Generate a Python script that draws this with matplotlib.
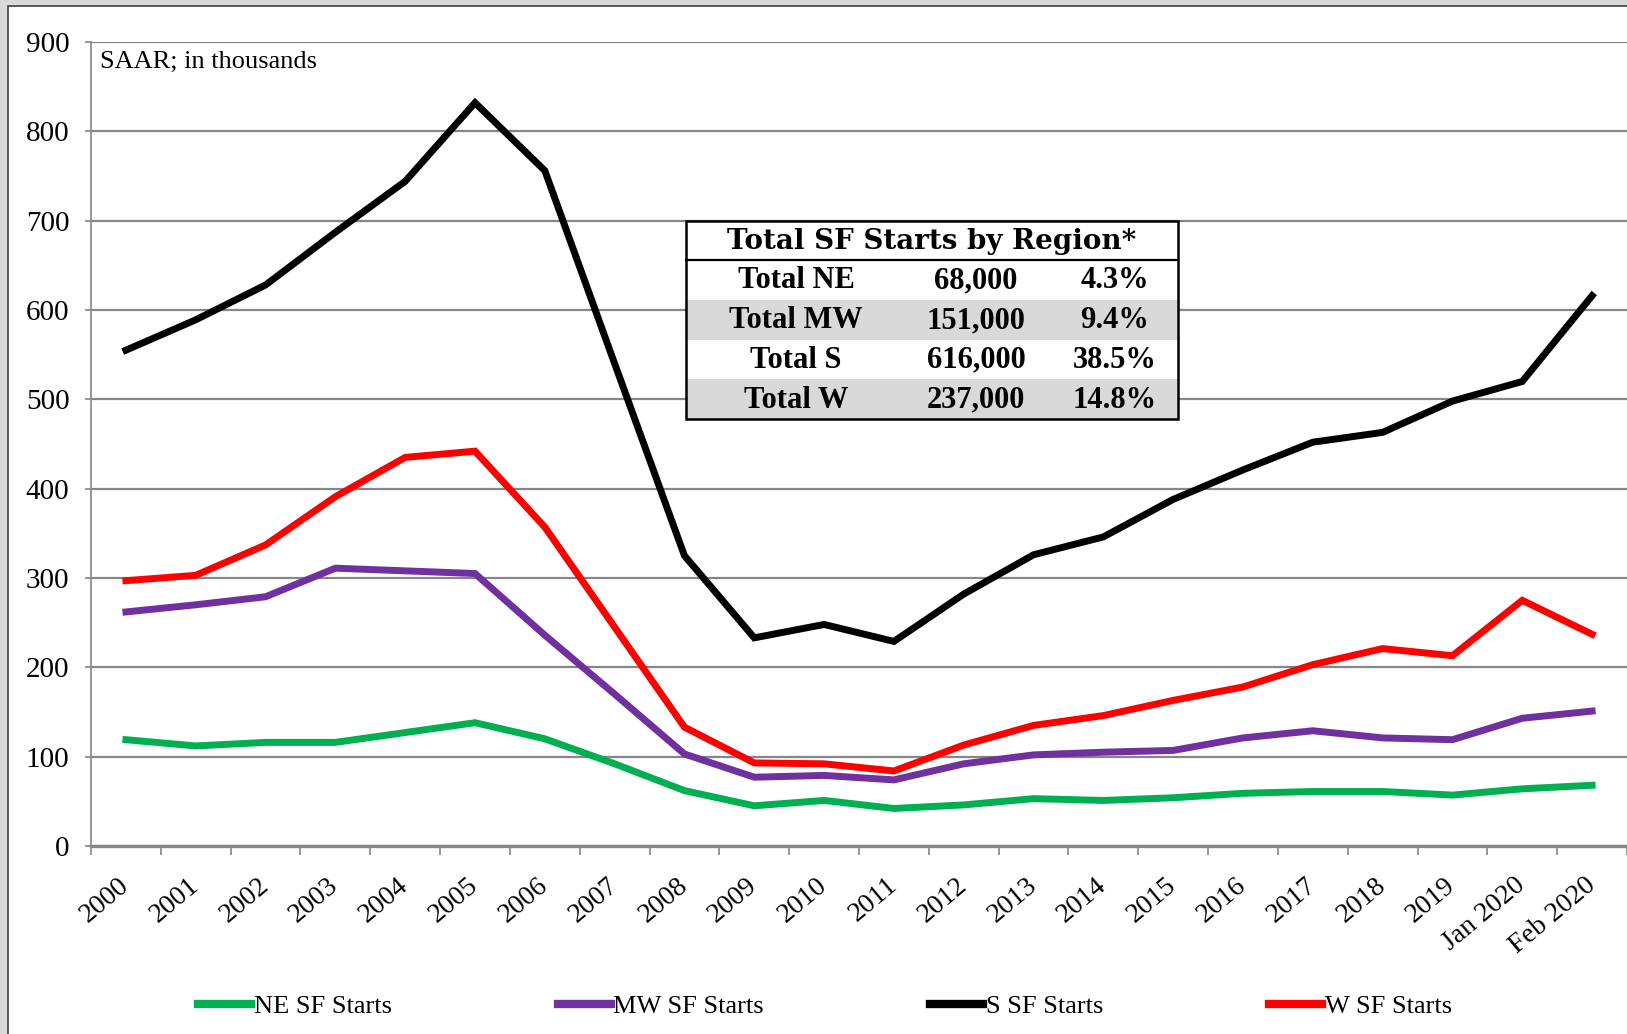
import numpy as np
import matplotlib
matplotlib.use('Agg')
import matplotlib.pyplot as plt
from matplotlib.patches import Rectangle
from matplotlib.lines import Line2D

# categories and series (SAAR, thousands)
cats = ['2000', '2001', '2002', '2003', '2004', '2005', '2006', '2007', '2008', '2009',
        '2010', '2011', '2012', '2013', '2014', '2015', '2016', '2017', '2018', '2019',
        'Jan 2020', 'Feb 2020']
ne = [119, 112, 116, 116, 127, 138, 120, 92, 62, 45, 51, 42, 46, 53, 51, 54, 59, 61, 61, 57, 64, 68]
mw = [262, 270, 279, 311, 308, 305, 236, 170, 103, 77, 79, 74, 92, 102, 105, 107, 121, 129, 121, 119, 143, 151]
s = [555, 589, 628, 687, 744, 832, 756, 540, 325, 233, 248, 229, 282, 326, 346, 388, 421, 452, 463, 498, 520, 616]
w = [297, 303, 337, 391, 435, 442, 357, 245, 133, 93, 92, 84, 113, 135, 146, 163, 178, 203, 221, 213, 275, 237]

series_names = ['NE SF Starts', 'MW SF Starts', 'S SF Starts', 'W SF Starts']
series_colors = ['#00b050', '#7030a0', '#000000', '#ff0000']

# inset table
tbl_title = 'Total SF Starts by Region*'
tbl_rows = ['Total NE', 'Total MW', 'Total S', 'Total W']
tbl_counts = ['68,000', '151,000', '616,000', '237,000']
tbl_shares = ['4.3%', '9.4%', '38.5%', '14.8%']

W, H = 1627, 1034
plt.rcParams['font.family'] = ['Liberation Serif', 'DejaVu Serif']

fig = plt.figure(figsize=(W / 100, H / 100), dpi=100, facecolor='#d9d9d9')

def fx(x):
    return x / W

def fy(y):
    return 1 - y / H

# white chart area with thin frame
fig.add_artist(Rectangle((fx(8), fy(H + 10)), 1.0, fy(6) - fy(H + 10), transform=fig.transFigure,
                         facecolor='white', edgecolor='#404040', lw=1.2, zorder=0))

ax = fig.add_axes([fx(91), fy(846), fx(1627) - fx(91), fy(42) - fy(846)])
ax.set_facecolor('none')

x = np.arange(len(cats)) + 0.5
for vals, name, col in zip([ne, mw, s, w], series_names, series_colors):
    ax.plot(x, vals, color=col, lw=5, label=name, solid_joinstyle='miter', zorder=3)

ax.set_xlim(0, len(cats))
ax.set_ylim(0, 900)
ax.set_yticks(np.arange(0, 901, 100))
ax.grid(axis='y', color='#868686', lw=1.6, zorder=1)
ax.set_axisbelow(True)

ax.set_xticks(np.arange(0, len(cats) + 1))
ax.set_xticklabels([])
ax.set_xticks(x, minor=True)
ax.set_xticklabels(cats, minor=True, rotation=40, ha='right', va='center', rotation_mode='anchor')
ax.tick_params(axis='x', which='major', length=6.5, width=1.2, color='#868686', direction='out')
ax.tick_params(axis='x', which='minor', length=0, pad=26, labelsize=20)
ax.tick_params(axis='y', length=4.5, width=1.2, color='#868686', pad=11, labelsize=21)

for sp in ['top', 'right']:
    ax.spines[sp].set_visible(False)
ax.spines['left'].set_color('#868686')
ax.spines['left'].set_linewidth(1.2)
ax.spines['bottom'].set_color('#868686')
ax.spines['bottom'].set_linewidth(2.4)

ax.text(fx(100), fy(62), 'SAAR; in thousands', transform=fig.transFigure, fontsize=19,
        ha='left', va='center')

# table
tl, tr, tt, tb = 686, 1178, 221, 419
hb = 260
rh = (tb - hb) / len(tbl_rows)
for i in range(len(tbl_rows)):
    y0 = hb + i * rh
    if i % 2 == 1:
        fig.add_artist(Rectangle((fx(tl), fy(y0 + rh)), fx(tr) - fx(tl), fy(y0) - fy(y0 + rh),
                                 transform=fig.transFigure, facecolor='#d9d9d9', edgecolor='none', zorder=4))
    yc = fy(y0 + rh / 2 + 1)
    fig.text(fx(796), yc, tbl_rows[i], ha='center', va='center', fontsize=22, fontweight='bold', zorder=6)
    fig.text(fx(976), yc, tbl_counts[i], ha='center', va='center', fontsize=22, fontweight='bold', zorder=6)
    fig.text(fx(1115), yc, tbl_shares[i], ha='center', va='center', fontsize=22, fontweight='bold', zorder=6)
fig.add_artist(Rectangle((fx(tl), fy(hb)), fx(tr) - fx(tl), fy(tt) - fy(hb), transform=fig.transFigure,
                         facecolor='white', edgecolor='none', zorder=4))
fig.text(fx((tl + tr) / 2), fy((tt + hb) / 2 + 1), tbl_title, ha='center', va='center', fontsize=20,
         fontweight='bold', family=['DejaVu Serif'], zorder=6)
fig.add_artist(Line2D([fx(tl), fx(tr)], [fy(hb), fy(hb)], transform=fig.transFigure, color='black', lw=1.6, zorder=6))
fig.add_artist(Rectangle((fx(tl), fy(tb)), fx(tr) - fx(tl), fy(tt) - fy(tb), transform=fig.transFigure,
                         facecolor='none', edgecolor='black', lw=1.8, zorder=7))

leg = fig.legend(loc='center', ncol=4, bbox_to_anchor=(fx(825), fy(1006)), frameon=False, fontsize=19,
                 handlelength=2.0, handletextpad=0.1, columnspacing=6.3)
for lh in leg.get_lines():
    lh.set_linewidth(6)

fig.savefig('out.png', dpi=100, facecolor=fig.get_facecolor())
